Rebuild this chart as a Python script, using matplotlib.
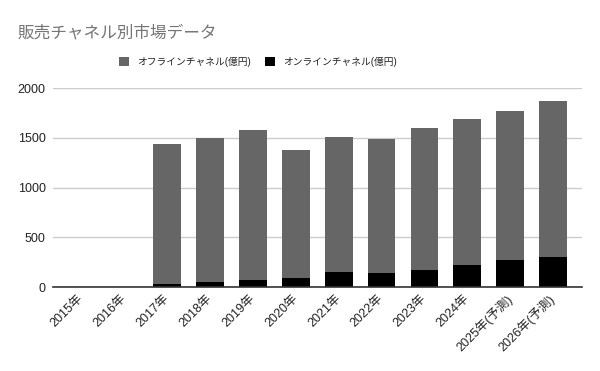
import numpy as np
from matplotlib import pyplot as plt

# --- data ---
years = ["2015年", "2016年", "2017年", "2018年", "2019年", "2020年",
         "2021年", "2022年", "2023年", "2024年", "2025年(予測)", "2026年(予測)"]
online = [0, 0, 30, 50, 75, 95, 155, 145, 175, 225, 275, 305]
offline = [0, 0, 1405, 1450, 1505, 1285, 1355, 1345, 1425, 1465, 1495, 1570]

offline_label = "オフラインチャネル(億円)"
online_label = "オンラインチャネル(億円)"
title = "販売チャネル別市場データ"

plt.rcParams["font.family"] = ["Liberation Sans", "Noto Sans CJK JP"]

fig = plt.figure(figsize=(6, 3.71), dpi=100)
ax = fig.add_axes([52.7 / 600, 1 - 287 / 371, 529 / 600, (287 - 88.3) / 371])

x = np.arange(len(years))
b_on = ax.bar(x, online, width=0.65, color="#000000", zorder=3, label=online_label)
b_off = ax.bar(x, offline, width=0.65, bottom=online, color="#666666", zorder=3,
               label=offline_label)

# --- axes styling ---
ax.set_xlim(-0.665, len(years) - 1 + 0.665)
ax.set_ylim(0, 2000)
ax.set_yticks([0, 500, 1000, 1500, 2000])
ax.yaxis.grid(True, color="#cccccc", linewidth=1, zorder=0)
for s in ["top", "right", "left"]:
    ax.spines[s].set_visible(False)
ax.spines["bottom"].set_color("#333333")
ax.spines["bottom"].set_linewidth(1.2)
ax.spines["bottom"].set_zorder(4)
ax.tick_params(axis="both", length=0, labelsize=9, labelcolor="#222222")
ax.tick_params(axis="y", pad=5)
ax.tick_params(axis="x", pad=7)
ax.set_xticks(x)
ax.set_xticklabels(years, rotation=45, ha="right", va="center", rotation_mode="anchor")

fig.text(18 / 600, 1 - 33 / 371, title, fontsize=12, color="#757575", va="center",
         family=["Noto Sans CJK JP"])

fig.legend(handles=[b_off, b_on], labels=[offline_label, online_label],
           loc="center", bbox_to_anchor=(258 / 600, 1 - 62 / 371), ncol=2,
           frameon=False, fontsize=7, handlelength=1.0, handleheight=1.0,
           handletextpad=0.8, columnspacing=1.5, labelcolor="#222222")

fig.savefig("out.png", dpi=100)
